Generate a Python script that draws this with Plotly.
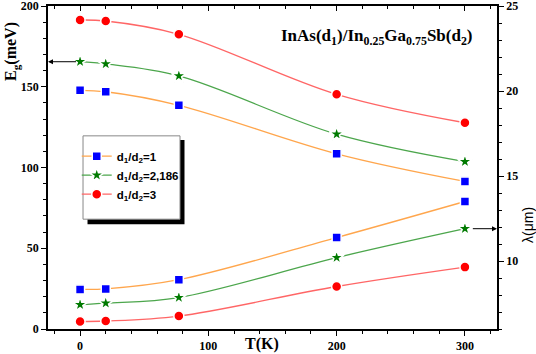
import plotly.graph_objects as go

# temperatures (K)
T = [0, 20, 77, 200, 300]

# band gap Eg (meV), left axis
eg_r1 = [147.8, 146.9, 138.5, 108.5, 91.4]
eg_r2186 = [165.5, 164.1, 156.7, 120.6, 103.6]
eg_r3 = [191.3, 190.7, 182.5, 145.3, 127.7]

# cut-off wavelength (um), right axis
lam_r1 = [8.33, 8.36, 8.90, 11.38, 13.50]
lam_r2186 = [7.43, 7.52, 7.85, 10.20, 11.90]
lam_r3 = [6.44, 6.47, 6.76, 8.50, 9.64]

names = ['d<sub>1</sub>/d<sub>2</sub>=1', 'd<sub>1</sub>/d<sub>2</sub>=2,186', 'd<sub>1</sub>/d<sub>2</sub>=3']
line_cols = ['#FFA64D', '#4CA64C', '#FF6666']
mark_cols = ['#0000FF', '#007A00', '#FF0000']
symbols = ['square', 'star', 'circle']
msizes = [9, 11, 10]

SERIF = 'Liberation Serif'
SANS = 'Liberation Sans'

fig = go.Figure()

for i, (eg, lam) in enumerate([(eg_r1, lam_r1), (eg_r2186, lam_r2186), (eg_r3, lam_r3)]):
    common = dict(mode='lines+markers',
                  line=dict(color=line_cols[i], width=1.3, shape='spline', smoothing=1),
                  marker=dict(symbol=symbols[i], size=msizes[i], color=mark_cols[i],
                              line=dict(color='white', width=1.5)))
    fig.add_trace(go.Scatter(x=T, y=eg, name=names[i], legendgroup=str(i),
                             yaxis='y', **common))
    fig.add_trace(go.Scatter(x=T, y=lam, name=names[i], legendgroup=str(i),
                             showlegend=False, yaxis='y2', **common))

tick_font = dict(family=SERIF, size=12, color='black', weight='bold')
axis_common = dict(showline=True, linecolor='black', linewidth=1.5, showgrid=False,
                   zeroline=False, tickfont=tick_font, ticklen=5, tickwidth=1.2,
                   tickcolor='black', automargin=False, ticklabeloverflow='allow')

fig.update_layout(
    template='none',
    width=536, height=354,
    margin=dict(l=48, r=39, t=6, b=25),
    paper_bgcolor='white', plot_bgcolor='white',
    xaxis=dict(range=[-25, 325], dtick=100, tick0=0, ticks='outside',
               minor=dict(dtick=20, tick0=0, ticks='outside', ticklen=3, tickcolor='black'),
               mirror=True, **axis_common),
    xaxis2=dict(range=[-25, 325], overlaying='x', side='top', anchor='y',
                showticklabels=False, dtick=100, tick0=0, ticks='inside',
                minor=dict(dtick=20, tick0=0, ticks='inside', ticklen=3, tickcolor='black'),
                **axis_common),
    yaxis=dict(range=[0, 200], dtick=50, ticks='outside',
               minor=dict(dtick=10, ticks='outside', ticklen=3, tickcolor='black'),
               **axis_common),
    yaxis2=dict(range=[6, 25], dtick=5, tick0=0, ticks='outside', side='right',
                overlaying='y', anchor='x',
                minor=dict(dtick=1, tick0=0, ticks='outside', ticklen=3, tickcolor='black'),
                **axis_common),
    showlegend=True,
    legend=dict(x=0.064, y=0.58, xanchor='left', yanchor='top',
                bgcolor='rgba(0,0,0,0)', borderwidth=0,
                font=dict(family=SANS, size=11.5, color='black', weight='bold'),
                tracegroupgap=0),
)

# invisible trace to activate top axis
fig.add_trace(go.Scatter(x=[T[0]], y=[eg_r1[0]], xaxis='x2', yaxis='y',
                         mode='markers', marker=dict(opacity=0), showlegend=False,
                         hoverinfo='skip'))

# legend box with shadow
fig.add_shape(type='rect', xref='paper', yref='paper', x0=0.088, x1=0.304,
              y0=0.324, y1=0.585, fillcolor='black', line=dict(width=0), layer='below')
fig.add_shape(type='rect', xref='paper', yref='paper', x0=0.078, x1=0.294,
              y0=0.34, y1=0.598, fillcolor='white',
              line=dict(color='#888888', width=1), layer='below')

# arrows pointing to the axis each group belongs to
fig.add_annotation(x=-25, y=eg_r2186[0], xref='x', yref='y', ax=-2, ay=eg_r2186[0],
                   axref='x', ayref='y', showarrow=True, arrowhead=2, arrowsize=1,
                   arrowwidth=1, arrowcolor='black', text='')
fig.add_annotation(x=325, y=lam_r2186[-1], xref='x', yref='y2', ax=305, ay=lam_r2186[-1],
                   axref='x', ayref='y2', showarrow=True, arrowhead=2, arrowsize=1,
                   arrowwidth=1, arrowcolor='black', text='')

# texts
txt = dict(xref='paper', yref='paper', showarrow=False, xanchor='center', yanchor='middle')
fig.add_annotation(x=0.733, y=0.905, **txt,
                   text='InAs(d<sub>1</sub>)/In<sub>0.25</sub>Ga<sub>0.75</sub>Sb(d<sub>2</sub>)',
                   font=dict(family=SERIF, size=17, color='black', weight='bold'))
fig.add_annotation(x=0.477, y=-0.045, **txt,
                   text='T(K)', font=dict(family=SERIF, size=16, color='black', weight='bold'))
fig.add_annotation(x=-0.08, y=0.858, **txt,
                   textangle=-90, text='E<sub>g</sub>(meV)',
                   font=dict(family=SERIF, size=16, color='black', weight='bold'))
fig.add_annotation(x=1.069, y=0.322, **txt,
                   textangle=-90, text='λ(μm)',
                   font=dict(family=SANS, size=14, color='black'))

fig.write_html("out.html", config={'displayModeBar': False},
               post_script="document.body.style.margin='0';")
